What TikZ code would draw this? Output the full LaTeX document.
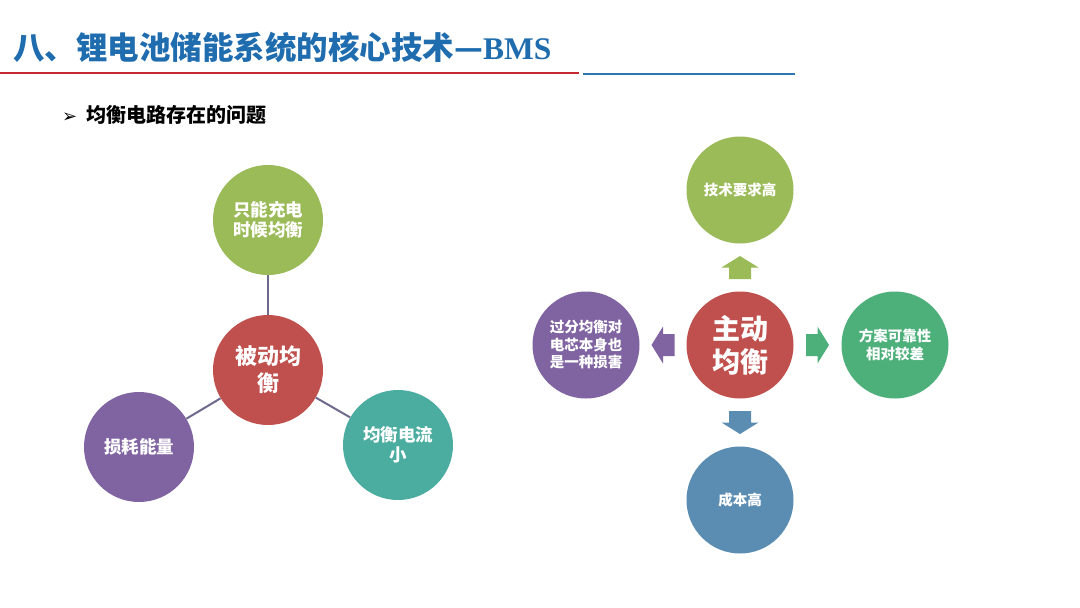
\documentclass[tikz,border=0pt]{standalone}
\usepackage{fontspec}
\setmainfont{Liberation Serif}
\newfontfamily\cjk{Noto Sans CJK SC}
\newfontfamily\symfont{DejaVu Sans}
\usetikzlibrary{calc}

\definecolor{titleblue}{RGB}{31,108,174}
\definecolor{linered}{RGB}{196,40,48}
\definecolor{lineblue}{RGB}{46,117,182}
\definecolor{cgreen}{RGB}{155,187,89}
\definecolor{cred}{RGB}{192,80,77}
\definecolor{cpurple}{RGB}{128,100,162}
\definecolor{cteal}{RGB}{75,172,160}
\definecolor{cgreentwo}{RGB}{77,176,122}
\definecolor{cblue}{RGB}{91,141,178}
\definecolor{linkgray}{RGB}{110,106,142}

\begin{document}
\begin{tikzpicture}[
  x=1pt, y=1pt,
  ball/.style={circle, inner sep=0pt, minimum size=110pt, text=white, align=center,
               font=\cjk\bfseries\fontsize{17.5}{20.5}\selectfont},
  smallball/.style={ball, minimum size=107pt, font=\cjk\bfseries\fontsize{14.5}{17.5}\selectfont},
  link/.style={draw=linkgray, line width=2pt},
  blkarr/.pic={\fill (-11.5,-11) -- (0,-11) -- (0,-18.5) -- (11.5,0) -- (0,18.5) -- (0,11) -- (-11.5,11) -- cycle;}
]
\useasboundingbox (0,0) rectangle (1080,-608);
\fill[white] (0,0) rectangle (1080,-608);

% title and rule
\node[anchor=west, inner sep=0pt, text=titleblue, font=\cjk\bfseries\fontsize{31.5}{38}\selectfont]
  (title) at (13,-47) {八、锂电池储能系统的核心技术—{\rmfamily BMS}};
\draw[linered, line width=2.5pt] (0,-73) -- (579,-73);
\draw[lineblue, line width=2.5pt] (583,-74) -- (795,-74);

% subtitle
\node[anchor=west, inner sep=0pt, font=\cjk\bfseries\fontsize{20}{22}\selectfont]
  (sub) at (62,-115) {{\symfont\fontsize{18}{18}\selectfont ➢}\hspace{9pt}均衡电路存在的问题};

% ---- passive balancing
\node[ball, fill=cred, font=\cjk\bfseries\fontsize{22}{27}\selectfont] (pc) at (268,-370) {被动均\\衡};
\node[ball, fill=cgreen] (pt) at (268,-220) {只能充电\\时候均衡};
\node[ball, fill=cpurple] (pl) at (139,-447) {损耗能量};
\node[ball, fill=cteal] (pr) at (398,-445) {均衡电流\\小};
\draw[link] (pc) -- (pt);
\draw[link] (pc) -- (pl);
\draw[link] (pc) -- (pr);

% ---- active balancing
\node[smallball, fill=cred, font=\cjk\bfseries\fontsize{28}{33}\selectfont] (ac) at (740,-345) {主动\\均衡};
\node[smallball, fill=cgreen] (at) at (740,-190) {技术要求高};
\node[smallball, fill=cpurple] (al) at (586,-345) {过分均衡对\\电芯本身也\\是一种损害};
\node[smallball, fill=cgreentwo] (ar) at (895,-345) {方案可靠性\\相对较差};
\node[smallball, fill=cblue] (ab) at (740,-500) {成本高};

\pic[fill=cgreen, rotate=90] at ($(ac.north)!0.5!(at.south)$) {blkarr};
\pic[fill=cpurple, rotate=180] at ($(ac.west)!0.5!(al.east)$) {blkarr};
\pic[fill=cgreentwo] at ($(ac.east)!0.5!(ar.west)$) {blkarr};
\pic[fill=cblue, rotate=-90] at ($(ac.south)!0.5!(ab.north)$) {blkarr};
\end{tikzpicture}
\end{document}
